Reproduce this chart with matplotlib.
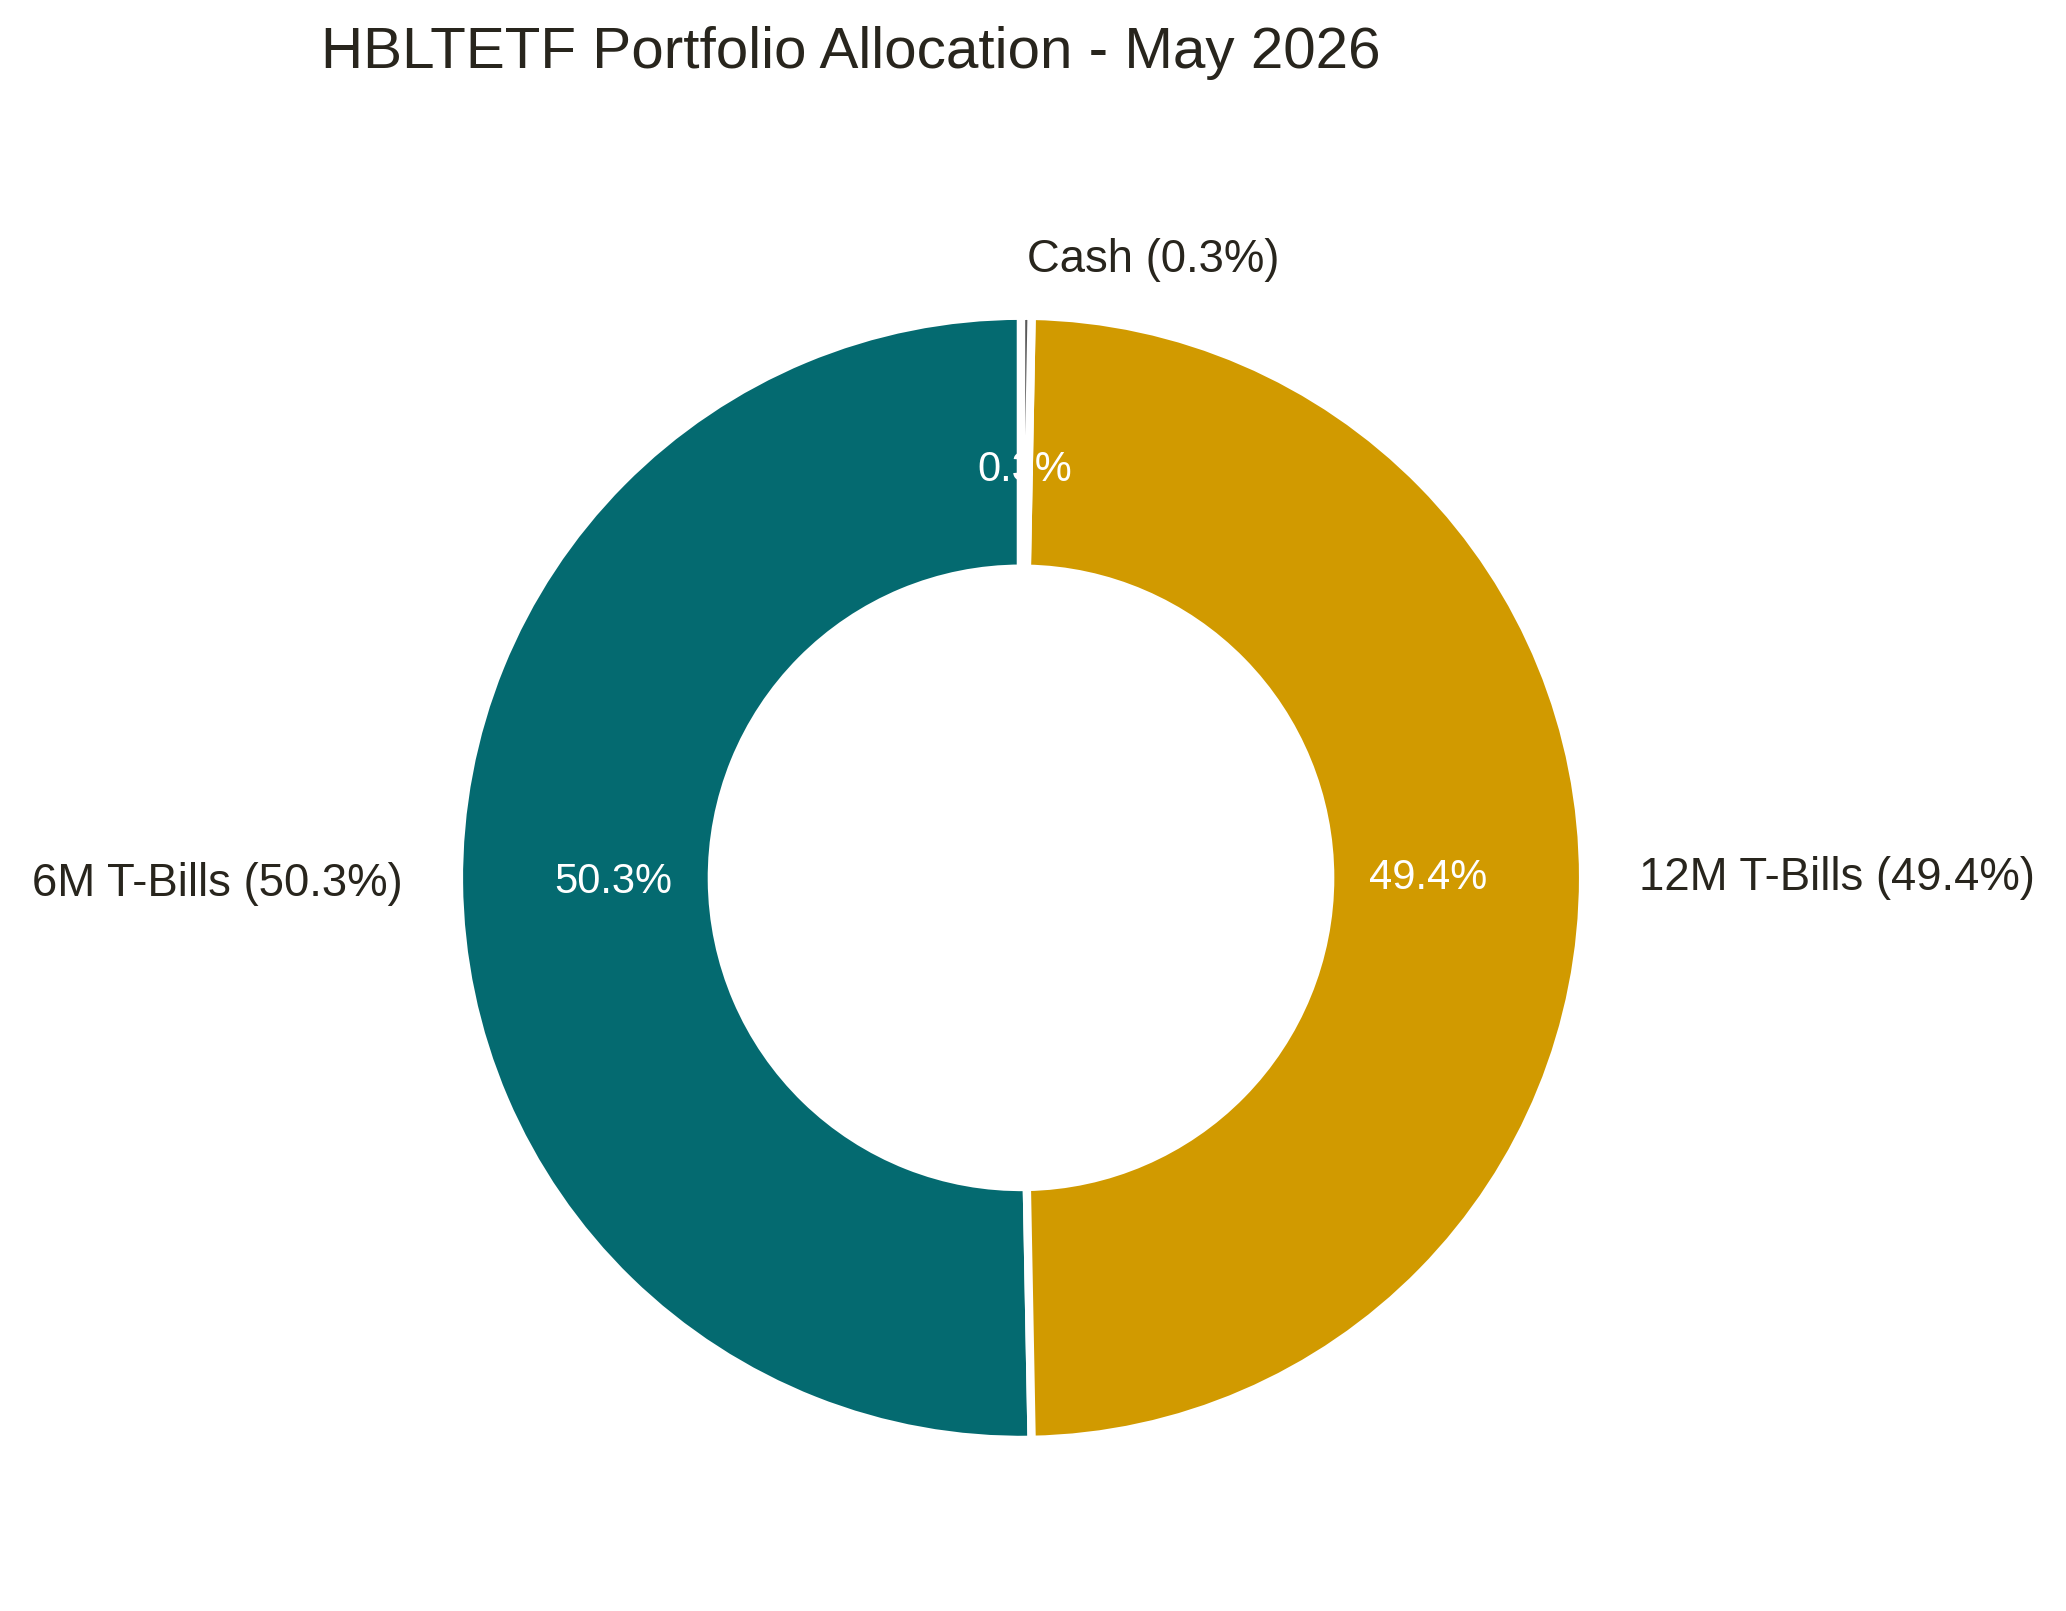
import matplotlib
matplotlib.use('Agg')
import matplotlib.pyplot as plt

# data
labels = ['6M T-Bills', '12M T-Bills', 'Cash']
values = [50.3, 49.4, 0.3]
colors = ['#046a70', '#d19a00', '#5a5a5a']

plt.rcParams['font.family'] = ['Liberation Sans', 'DejaVu Sans']
text_color = '#28251d'

fig = plt.figure(figsize=(10.33, 8.055), dpi=200)
ax = fig.add_axes([0.1707, 0.0406, 0.647, 0.829])

full_labels = ['%s (%.1f%%)' % (l, v) for l, v in zip(labels, values)]
wedges, texts, autotexts = ax.pie(
    values, labels=full_labels, colors=colors, startangle=90,
    autopct='%1.1f%%', pctdistance=0.725, labeldistance=1.1,
    wedgeprops=dict(width=0.45, edgecolor='white', linewidth=3),
    textprops=dict(fontsize=16.4, color=text_color))
for t in autotexts:
    t.set_color('white')
    t.set_fontsize(15)

ax.set_xlim(-1.188, 1.188)
ax.set_ylim(-1.188, 1.188)
ax.set_aspect('equal')

fig.text(0.412, 0.967, 'HBLTETF Portfolio Allocation - May 2026',
         ha='center', va='center', fontsize=21, color=text_color)

plt.savefig('out.png', dpi=200)
